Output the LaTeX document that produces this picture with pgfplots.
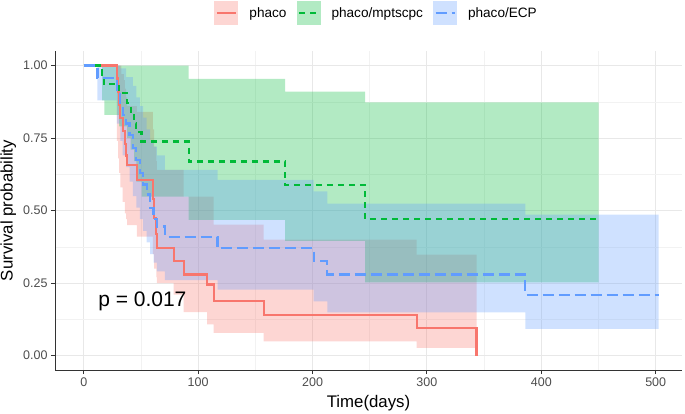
\documentclass[border=0pt]{standalone}
\usepackage{fontspec}
\setmainfont{Liberation Sans}
\usepackage{pgfplots}
\pgfplotsset{compat=1.18}
\usepgfplotslibrary{fillbetween}
\definecolor{cR}{HTML}{F8766D}
\definecolor{cG}{HTML}{00BA38}
\definecolor{cB}{HTML}{619CFF}
\definecolor{tickgray}{HTML}{4D4D4D}
\begin{document}
\begin{tikzpicture}
\begin{axis}[
  scale only axis, width=627pt, height=319pt,
  xmin=-25.13, xmax=523, ymin=-0.05, ymax=1.05,
  axis x line=bottom, axis y line=left,
  axis line style={-, black!80, line width=0.9pt},
  xtick={0,100,200,300,400,500}, ytick={0,0.25,0.5,0.75,1},
  yticklabels={0.00,0.25,0.50,0.75,1.00},
  minor xtick={50,150,250,350,450}, minor ytick={0.125,0.375,0.625,0.875},
  grid=both,
  major grid style={color=black!9, line width=0.9pt},
  minor grid style={color=black!5, line width=0.5pt},
  tick align=outside, major tick length=4pt, minor tick length=0pt,
  every tick/.style={black!80, line width=0.9pt},
  ticklabel style={font=\fontsize{12.5}{14}\selectfont, text=tickgray},
  /pgf/number format/assume math mode=true,
  legend columns=3,
  legend style={draw=none, fill=none, at={(0.513,1.119)}, anchor=center,
    font=\fontsize{13.6}{16}\selectfont,
    /tikz/every odd column/.append style={column sep=9pt},
    /tikz/every even column/.append style={column sep=8pt}},
]
\coordinate (SW) at (rel axis cs:0,0);
\coordinate (W) at (rel axis cs:0,0.5);
\coordinate (S) at (rel axis cs:0.5,0);

% ---- survival curves (drawn first, bands on top as in ggsurvplot)
\addplot[cR, line width=2.2pt, const plot, forget plot] table {
x y
0 1
29 0.955
30 0.91
31 0.865
32 0.82
34 0.775
36 0.73
37 0.69
38 0.657
46.5 0.606
60.5 0.54
61.5 0.474
63.5 0.42
64 0.371
78.6 0.325
87.3 0.279
107.8 0.245
113.6 0.187
157.3 0.141
291 0.095
343.4 0
};
\addplot[cG, line width=2.2pt, const plot, dash pattern=on 6pt off 5pt, forget plot] table {
x y
0 1
16 0.967
18 0.937
31 0.905
38 0.87
41 0.835
44 0.80
46 0.77
50.5 0.738
91.7 0.669
176 0.587
246 0.47
450 0.47
};
\addplot[cB, line width=2.2pt, const plot, dash pattern=on 11pt off 5pt, forget plot] table {
x y
0 1
12 0.957
29 0.915
32 0.87
34 0.83
37 0.80
40 0.76
43 0.716
46 0.675
49 0.63
52 0.59
55 0.555
58 0.51
61 0.47
64 0.445
71 0.41
117 0.371
201 0.325
213 0.279
386 0.21
502.6 0.21
};

% ---- confidence bands
\addplot[draw=none, const plot, name path=rU, forget plot] table {
x y
0 1
33 0.97
35 0.95
36 0.92
37 0.89
38 0.86
46.5 0.84
60.5 0.78
61.5 0.72
63.5 0.67
64 0.64
87.3 0.548
113.6 0.451
157.3 0.40
291 0.348
343.4 0.348
};
\addplot[draw=none, const plot, name path=rL, forget plot] table {
x y
0 1
29 0.74
30 0.68
31 0.63
32 0.58
34 0.53
36 0.49
37 0.47
38 0.45
46.5 0.41
60.5 0.35
61.5 0.30
63.5 0.27
64 0.25
78.6 0.21
87.3 0.15
107.8 0.107
113.6 0.078
157.3 0.049
291 0.026
343.4 0.026
};
\addplot[fill=cR, fill opacity=0.3, draw=none, forget plot] fill between[of=rU and rL];

\addplot[draw=none, const plot, name path=gU, forget plot] table {
x y
0 1
91.7 0.954
176 0.91
246 0.873
450 0.873
};
\addplot[draw=none, const plot, name path=gL, forget plot] table {
x y
0 1
16 0.88
18 0.83
31 0.79
38 0.75
41 0.71
44 0.67
46 0.60
50.5 0.548
91.7 0.468
176 0.395
246 0.252
450 0.252
};
\addplot[fill=cG, fill opacity=0.3, draw=none, forget plot] fill between[of=gU and gL];

\addplot[draw=none, const plot, name path=bU, forget plot] table {
x y
0 1
32 0.99
37 0.96
43 0.93
46 0.89
49 0.86
52 0.82
55 0.78
58 0.74
61 0.72
64 0.69
71 0.64
117 0.606
201 0.566
213 0.524
386 0.486
502.6 0.486
};
\addplot[draw=none, const plot, name path=bL, forget plot] table {
x y
0 1
12 0.88
29 0.80
32 0.74
34 0.69
37 0.65
40 0.60
43 0.55
46 0.51
49 0.47
52 0.43
55 0.39
58 0.35
61 0.32
64 0.29
71 0.26
117 0.227
201 0.187
213 0.149
386 0.092
502.6 0.092
};
\addplot[fill=cB, fill opacity=0.3, draw=none, forget plot] fill between[of=bU and bL];

\node[anchor=base west, font=\fontsize{21}{24}\selectfont] at (axis cs:9.6,0.17) {p = 0.017};

% ---- legend
\addlegendimage{legend image code/.code={
  \path[draw=none, fill=cR, fill opacity=0.3] (0pt,-12pt) rectangle (24pt,12pt);
  \path[draw=cR, line width=2.2pt] (2.5pt,0pt) -- (21.5pt,0pt);}}
\addlegendentry{phaco}
\addlegendimage{legend image code/.code={
  \path[draw=none, fill=cG, fill opacity=0.3] (0pt,-12pt) rectangle (24pt,12pt);
  \path[draw=cG, line width=2.2pt, dash pattern=on 6pt off 5pt] (2.5pt,0pt) -- (21.5pt,0pt);}}
\addlegendentry{phaco/mptscpc}
\addlegendimage{legend image code/.code={
  \path[draw=none, fill=cB, fill opacity=0.3] (0pt,-12pt) rectangle (24pt,12pt);
  \path[draw=cB, line width=2.2pt, dash pattern=on 11pt off 5pt] (2.5pt,0pt) -- (21.5pt,0pt);}}
\addlegendentry{phaco/ECP}
\end{axis}
\path (S) ++(0,-37pt) node[anchor=base, font=\fontsize{16.8}{19}\selectfont] {Time(days)};
\path (W) ++(-42.3pt,0) node[anchor=base, rotate=90, font=\fontsize{16.8}{19}\selectfont] {Survival probability};
\pgfresetboundingbox
\useasboundingbox (SW) ++(-55pt,-43pt) rectangle ++(685pt,413pt);
\end{tikzpicture}
\end{document}
